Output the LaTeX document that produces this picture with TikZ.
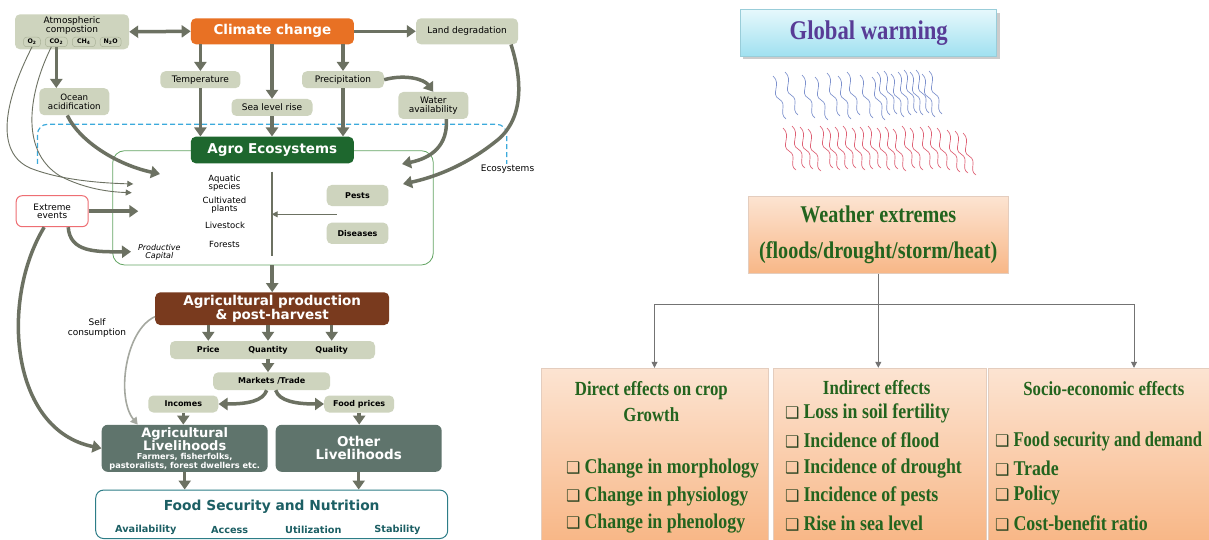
\documentclass[tikz,border=0pt]{standalone}
\usepackage{fontspec}
\setmainfont{Liberation Serif}
\newfontfamily\dvs{DejaVu Sans}
\newfontfamily\tnrb[FakeStretch=0.85]{Liberation Serif}
\newfontfamily\tnrc[FakeStretch=0.79]{Liberation Serif}
\newfontfamily\tnrh[FakeStretch=0.84]{Liberation Serif}
\usetikzlibrary{arrows.meta}
\definecolor{sage}{RGB}{206,212,190}
\definecolor{sagedk}{RGB}{170,178,152}
\definecolor{agray}{RGB}{108,113,98}
\definecolor{ltgray}{RGB}{165,168,160}
\definecolor{ccorange}{RGB}{232,113,36}
\definecolor{agreen}{RGB}{30,103,46}
\definecolor{lgreen}{RGB}{100,165,100}
\definecolor{brownx}{RGB}{121,58,30}
\definecolor{slate}{RGB}{95,116,108}
\definecolor{tealb}{RGB}{45,125,135}
\definecolor{tealtxt}{RGB}{28,95,100}
\definecolor{dblue}{RGB}{60,170,220}
\definecolor{exred}{RGB}{238,110,115}
\definecolor{wgreen}{RGB}{35,100,30}
\definecolor{bulc}{RGB}{45,70,35}
\definecolor{gwpurple}{RGB}{88,60,150}
\definecolor{peachT}{RGB}{252,228,210}
\definecolor{peachB}{RGB}{248,183,135}
\definecolor{peachE}{RGB}{228,205,190}
\definecolor{cyanT}{RGB}{230,248,252}
\definecolor{cyanB}{RGB}{160,225,240}
\definecolor{sqblue}{RGB}{125,145,205}
\definecolor{sqred}{RGB}{222,95,115}
\definecolor{rgray}{RGB}{115,115,115}
\newcommand\lbl{\dvs\fontsize{9}{9.5}\selectfont}
\newcommand\sqbul{{\dvs\mdseries\fontsize{16}{16}\selectfont\color{bulc}❑}\hspace{4pt}}
\begin{document}
\begin{tikzpicture}[x=1pt,y=-1pt,
 pill/.style={fill=sage, rounded corners=5pt, inner sep=0pt, align=center, font=\lbl},
 gas/.style={draw=sagedk, line width=0.5pt, fill=sage, rounded corners=3pt, inner sep=0pt, minimum height=9.5pt, font=\dvs\bfseries\fontsize{6.3}{6.3}\selectfont},
 hdr/.style={rounded corners=5pt, inner sep=0pt, text=white, align=center, font=\dvs\bfseries\fontsize{13.5}{14}\selectfont},
 inlbl/.style={inner sep=0pt, align=center, font=\lbl},
 big/.style={draw=agray, line width=3.5pt, -{Triangle[width=12pt,length=9pt]}},
 bigboth/.style={draw=agray, line width=3.5pt, {Triangle[width=12pt,length=9pt]}-{Triangle[width=12pt,length=9pt]}},
 fine/.style={draw=agray, line width=1pt, -{Triangle[width=6pt,length=6pt]}},
 lite/.style={draw=ltgray, line width=1.6pt, -{Triangle[width=8pt,length=7pt]}},
 live/.style={fill=slate, rounded corners=6pt, inner sep=0pt, text=white, align=center, minimum width=166pt, minimum height=47pt, font=\dvs\bfseries},
 livetxt/.style={inner sep=0pt, text=white, align=center},
 rbox/.style={draw=peachE, top color=peachT, bottom color=peachB, inner sep=0pt},
 rhead/.style={inner sep=0pt, align=center, text=wgreen, font=\tnrh\bfseries\fontsize{20}{26.5}\selectfont},
 rbul/.style={inner sep=0pt, anchor=west, text=wgreen, font=\tnrb\bfseries\fontsize{21}{22}\selectfont},
 rline/.style={draw=rgray, line width=0.8pt},
 rarr/.style={draw=rgray, line width=0.8pt, -{Triangle[width=6pt,length=6pt]}},
]
\useasboundingbox (0,0) rectangle (1209,540);
\fill[white] (0,0) rectangle (1209,540);

% ---------- LEFT DIAGRAM ----------
\draw[dblue, line width=1.2pt, dash pattern=on 5pt off 3pt, rounded corners=10pt] (37.5,164) -- (37.5,124.3) -- (506.7,124.3) -- (506.7,164);
\node[inlbl] (ecolbl) at (507.5,169) {Ecosystems};

\node[pill, minimum width=114pt, minimum height=35pt] (atm) at (72,31.8) {};
\node[inlbl, font=\dvs\fontsize{9}{8}\selectfont] (atmt) at (72,25.5) {Atmospheric\\compostion};
\node[gas, minimum width=17pt] (o2) at (32,42) {O\textsubscript{2}};
\node[gas, minimum width=22pt] (co2) at (56.3,42) {CO\textsubscript{2}};
\node[gas, minimum width=23pt] (ch4) at (83.8,42) {CH\textsubscript{4}};
\node[gas, minimum width=21pt] (n2o) at (110.6,42) {N\textsubscript{2}O};

\node[hdr, fill=ccorange, minimum width=163pt, minimum height=26pt] (climate) at (272.4,31.3) {Climate change};
\node[pill, minimum width=102pt, minimum height=26pt] (land) at (467,31.3) {Land degradation};
\node[pill, minimum width=80pt, minimum height=17pt] (temp) at (200.4,79.7) {Temperature};
\node[pill, minimum width=81pt, minimum height=17pt] (sea) at (272,107.5) {Sea level rise};
\node[pill, minimum width=82pt, minimum height=17pt] (precip) at (343,79.7) {Precipitation};
\node[pill, minimum width=70pt, minimum height=27pt, font=\dvs\fontsize{9}{8.5}\selectfont] (water) at (433.3,105.5) {Water\\availability};
\node[pill, minimum width=70pt, minimum height=27pt, font=\dvs\fontsize{8.7}{8.5}\selectfont] (ocean) at (74.3,101.7) {Ocean\\acidification};

\node[draw=lgreen, line width=0.8pt, rounded corners=12pt, minimum width=320.6pt, minimum height=114.3pt, inner sep=0pt] (agrobox) at (273,207.85) {};
\node[hdr, fill=agreen, minimum width=163pt, minimum height=26.6pt] (agro) at (272.3,150) {Agro Ecosystems};

\node[inlbl, font=\dvs\fontsize{8.5}{8.5}\selectfont] (aqua) at (224.5,183) {Aquatic\\species};
\node[inlbl, font=\dvs\fontsize{8.5}{8.5}\selectfont] (cult) at (224.5,205) {Cultivated\\plants};
\node[inlbl, font=\dvs\fontsize{8.5}{8.5}\selectfont] (lstock) at (225,225) {Livestock};
\node[inlbl, font=\dvs\fontsize{8.5}{8.5}\selectfont] (forest) at (224.5,244) {Forests};
\coordinate (vtop) at (271.7,171.7);
\coordinate (vbot) at (271.7,256);
\draw[agray, line width=1.6pt] (vtop) -- (vbot);
\node[pill, minimum width=61.6pt, minimum height=21pt, font=\dvs\bfseries\fontsize{8}{8}\selectfont] (pests) at (357.5,195.5) {Pests};
\node[pill, minimum width=61.6pt, minimum height=21.3pt, font=\dvs\bfseries\fontsize{8}{8}\selectfont] (dis) at (357.5,233.3) {Diseases};
\coordinate (pd) at (336.7,214.3);
\draw[fine] (pd) -- (vtop |- pd);

\node[draw=exred, line width=1pt, fill=white, rounded corners=6pt, minimum width=72pt, minimum height=31pt, inner sep=0pt, align=center, font=\dvs\fontsize{8.9}{8.5}\selectfont] (extreme) at (52.2,211.2) {Extreme\\events};
\node[inlbl, font=\dvs\itshape\fontsize{8}{7.7}\selectfont] (prodcap) at (159.3,252) {Productive\\Capital};
\node[inlbl] (selfc) at (97,328) {Self\\consumption};

% arrows top
\draw[bigboth] (atm.east) -- (climate.west);
\draw[big] (climate.east) -- (land.west);
\draw[big] (temp.north |- climate.south) -- (temp.north);
\draw[big] (sea.north |- climate.south) -- (sea.north);
\draw[big] (precip.north |- climate.south) -- (precip.north);
\draw[big] (temp.south) -- (temp.south |- agro.north);
\draw[big] (sea.south) -- (sea.south |- agro.north);
\draw[big] (precip.south) -- (precip.south |- agro.north);
\draw[big] (precip.east) .. controls (405,74) and (424,79) .. (water.north);
\draw[big] (co2.south) -- (co2.south |- ocean.north);
\coordinate (oc) at (160,174);
\draw[big] ([xshift=-7pt]ocean.south) .. controls (80,142) and (118,165) .. (oc);
\coordinate (wa) at (402,164);
\draw[big] ([xshift=13pt]water.south) .. controls (448,145) and (432,158) .. (wa);
\coordinate (ld) at (403,184);
\draw[big] ([xshift=44pt]land.south) .. controls (524,85) and (522,122) .. (495,142) .. controls (470,162) and (440,176) .. (ld);
\coordinate (t1) at (133.3,184);
\coordinate (t2) at (131.7,192.7);
\draw[fine, line width=0.9pt] (o2.south) .. controls (10,90) and (-10,150) .. (30,168) .. controls (60,180) and (100,183) .. (t1);
\draw[fine, line width=0.9pt] ([xshift=-5pt]co2.south) .. controls (30,90) and (18,150) .. (60,176) .. controls (85,189) and (110,192) .. (t2);
\coordinate (ex1) at (138.3,211.2);
\draw[big] (extreme.east) -- (ex1);
\coordinate (ex2) at (131,251.7);
\draw[big] ([xshift=16pt]extreme.south) .. controls (70,252) and (95,252) .. (ex2);

% lower part
\node[hdr, fill=brownx, minimum width=234pt, minimum height=32.7pt, font=\dvs\bfseries\fontsize{13.5}{12.5}\selectfont] (prod) at (272.2,308.7) {Agricultural production\\\& post-harvest};
\draw[big] (agrobox.south -| prod.north) -- (prod.north);
\node[pill, minimum width=205pt, minimum height=18pt] (ppq) at (272.5,350) {};
\node[inlbl, font=\dvs\bfseries\fontsize{8}{8}\selectfont] (price) at (208.3,350) {Price};
\node[inlbl, font=\dvs\bfseries\fontsize{8}{8}\selectfont] (quantity) at (268,350) {Quantity};
\node[inlbl, font=\dvs\bfseries\fontsize{8}{8}\selectfont] (quality) at (331.7,350) {Quality};
\draw[big] (price.center |- prod.south) -- (price.center |- ppq.north);
\draw[big] (quantity.center |- prod.south) -- (quantity.center |- ppq.north);
\draw[big] (quality.center |- prod.south) -- (quality.center |- ppq.north);
\node[pill, minimum width=117pt, minimum height=17.7pt, font=\dvs\bfseries\fontsize{8}{8}\selectfont] (markets) at (271.7,381.2) {Markets /Trade};
\draw[big] (quantity.center |- ppq.south) -- (quantity.center |- markets.north);
\node[pill, minimum width=70pt, minimum height=17pt, font=\dvs\bfseries\fontsize{8}{8}\selectfont] (incomes) at (183.3,404) {Incomes};
\node[pill, minimum width=70pt, minimum height=17pt, font=\dvs\bfseries\fontsize{8}{8}\selectfont] (foodp) at (359.2,404) {Food prices};
\draw[big] ([xshift=-5pt]markets.south) .. controls (263,401) and (248,404) .. (incomes.east);
\draw[big] ([xshift=4pt]markets.south) .. controls (279,401) and (296,404) .. (foodp.west);

\node[live] (aglive) at (184.7,448.3) {};
\node[livetxt, font=\dvs\bfseries\fontsize{13}{13}\selectfont] (aglt) at (184.7,439.5) {Agricultural\\Livelihoods};
\node[livetxt, font=\dvs\bfseries\fontsize{8.2}{8.6}\selectfont] (agls) at (184.7,461.5) {Farmers, fisherfolks,\\pastoralists, forest dwellers etc.};
\node[live, font=\dvs\bfseries\fontsize{13.5}{13}\selectfont] (otherlive) at (358.7,448.3) {Other\\Livelihoods};
\draw[big] (incomes.south) -- (incomes.south |- aglive.north);
\draw[big] (foodp.south) -- (foodp.south |- otherlive.north);

\draw[lite] ([yshift=-8pt]prod.west) .. controls (125,330) and (116,398) .. ([xshift=-47pt]aglive.north);
\draw[big] ([xshift=-8pt]extreme.south) .. controls (0,300) and (10,430) .. (aglive.west);

\node[draw=tealb, line width=1pt, rounded corners=8pt, fill=white, minimum width=352pt, minimum height=48.5pt, inner sep=0pt] (fsn) at (271.7,514.3) {};
\draw[big] (aglive.south) -- (aglive.south |- fsn.north);
\draw[big] (otherlive.south) -- (otherlive.south |- fsn.north);
\node[inner sep=0pt, text=tealtxt, font=\dvs\bfseries\fontsize{13.8}{14}\selectfont] (fsnt) at (271.7,506.7) {Food Security and Nutrition};
\node[inner sep=0pt, text=tealtxt, font=\dvs\bfseries\fontsize{9.7}{10}\selectfont] (avail) at (145.8,530) {Availability};
\node[inner sep=0pt, text=tealtxt, font=\dvs\bfseries\fontsize{9.7}{10}\selectfont] (access) at (229.7,530) {Access};
\node[inner sep=0pt, text=tealtxt, font=\dvs\bfseries\fontsize{9.7}{10}\selectfont] (util) at (313.3,530) {Utilization};
\node[inner sep=0pt, text=tealtxt, font=\dvs\bfseries\fontsize{9.7}{10}\selectfont] (stab) at (397.5,530) {Stability};

% ---------- RIGHT DIAGRAM ----------
\fill[black!20] (743,13) rectangle (999.5,59.5);
\node[top color=cyanT, bottom color=cyanB, draw=cyanB!80!gray, line width=0.6pt, minimum width=256pt, minimum height=46.7pt, inner sep=0pt, text=gwpurple, font=\tnrh\bfseries\fontsize{27}{27}\selectfont] (gw) at (868.7,32.7) {Global warming};

\foreach \x/\y in {773/76, 785/72, 802/75, 815/77, 827/73, 838/76, 847/72, 860/75, 872/77, 877/72, 884/71, 891/74, 898/72, 904/70, 910/72, 916/70, 922/74, 929/71}
  \draw[sqblue, line width=0.65pt] (\x,\y) .. controls (\x+9,\y+8) and (\x-3,\y+18) .. (\x+6,\y+23) .. controls (\x+15,\y+28) and (\x+5,\y+37) .. (\x+13,\y+43);
\foreach \x/\y in {783/128, 792/126, 800/127, 808/129, 820/126, 827/128, 835/127, 843/126, 852/128, 860/127, 868/126, 877/128, 885/127, 893/129, 902/126, 910/128, 920/127, 928/126, 937/128, 947/130, 955/131, 963/133}
  \draw[sqred, line width=0.65pt] (\x,\y) .. controls (\x+9,\y+8) and (\x-3,\y+18) .. (\x+6,\y+23) .. controls (\x+15,\y+28) and (\x+5,\y+37) .. (\x+13,\y+42);

\node[rbox, minimum width=260pt, minimum height=77.3pt, align=center, text=wgreen, font=\tnrh\bfseries\fontsize{24}{35.5}\selectfont] (wx) at (878.3,234.7) {Weather extremes\\(floods/drought/storm/heat)};

\node[rbox, minimum width=227pt, minimum height=172pt] (b1) at (654.5,454) {};
\node[rbox, minimum width=213pt, minimum height=172pt] (b2) at (879.5,454) {};
\node[rbox, minimum width=222pt, minimum height=172pt] (b3) at (1099,454) {};

\coordinate (hm) at (878.3,304);
\coordinate (hl) at (654.5,304);
\coordinate (hr) at (1134,304);
\draw[rline] (wx.south) -- (hm);
\draw[rline] (hl) -- (hr);
\draw[rarr] (hl) -- (hl |- b1.north);
\draw[rarr] (hm) -- (hm |- b2.north);
\draw[rarr] (hr) -- (hr |- b3.north);

\node[rhead] (b1h) at (651.3,401.5) {Direct effects on crop\\Growth};
\node[rbul] (b1a) at (566,468.3) {\sqbul Change in morphology};
\node[rbul] (b1b) at (566,496.7) {\sqbul Change in physiology};
\node[rbul] (b1c) at (566,523.3) {\sqbul Change in phenology};

\node[rhead] (b2h) at (876.7,388) {Indirect effects};
\node[rbul] (b2a) at (785,413.3) {\sqbul Loss in soil fertility};
\node[rbul] (b2b) at (785,440.7) {\sqbul Incidence of flood};
\node[rbul] (b2c) at (785,468.3) {\sqbul Incidence of drought};
\node[rbul] (b2d) at (785,496.7) {\sqbul Incidence of pests};
\node[rbul] (b2e) at (785,523.3) {\sqbul Rise in sea level};

\node[rhead] (b3h) at (1103.8,388.3) {Socio-economic effects};
\node[rbul, font=\tnrc\bfseries\fontsize{21}{22}\selectfont] (b3a) at (995,441.7) {\sqbul Food security and demand};
\node[rbul] (b3b) at (995,468.3) {\sqbul Trade};
\node[rbul] (b3c) at (995,495) {\sqbul Policy};
\node[rbul] (b3d) at (995,523.3) {\sqbul Cost-benefit ratio};
\end{tikzpicture}
\end{document}
